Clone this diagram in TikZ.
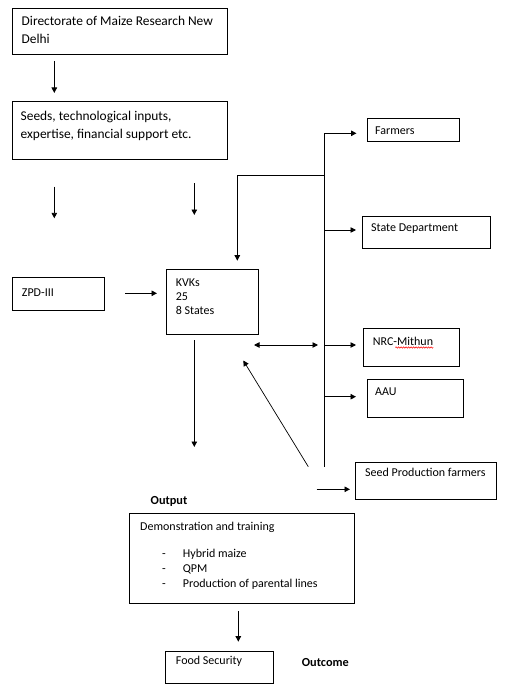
\documentclass[tikz,border=0pt]{standalone}
\usepackage{fontspec}
\setmainfont{Carlito}
\usetikzlibrary{arrows.meta,calc,decorations.pathmorphing}
\begin{document}
\begin{tikzpicture}[x=1pt,y=-1pt,
  box/.style={draw=black,line width=0.9pt,inner sep=0pt,anchor=north west},
  txt/.style={anchor=base west,inner sep=0pt,font=\fontsize{12}{14}\selectfont},
  bigtxt/.style={anchor=base west,inner sep=0pt,font=\fontsize{13.4}{16}\selectfont},
  btxt/.style={anchor=base west,inner sep=0pt,font=\fontsize{12.3}{14}\selectfont\bfseries},
  arr/.style={line width=0.9pt,-{Triangle[length=5.5pt,width=5.5pt]}},
  ln/.style={line width=0.9pt}]
\useasboundingbox (0,0) rectangle (507,690);
% boxes
\node[box,minimum width=215pt,minimum height=46pt] (dmr) at (11.7,8.3) {};
\node[box,minimum width=215pt,minimum height=57pt] (seeds) at (11.7,101.5) {};
\node[box,minimum width=92.6pt,minimum height=32.7pt] (zpd) at (11.7,277.3) {};
\node[box,minimum width=92.6pt,minimum height=65pt] (kvk) at (165.7,269.3) {};
\node[box,minimum width=92.6pt,minimum height=22.4pt] (farm) at (366.7,118.3) {};
\node[box,minimum width=128.3pt,minimum height=31.7pt] (sd) at (361.7,216) {};
\node[box,minimum width=96.6pt,minimum height=37.7pt] (nrc) at (362.7,328.3) {};
\node[box,minimum width=96.6pt,minimum height=38pt] (aau) at (366.7,379.3) {};
\node[box,minimum width=140.7pt,minimum height=37.6pt] (spf) at (355,461.7) {};
\node[box,minimum width=225.3pt,minimum height=90pt] (demo) at (129,513.3) {};
\node[box,minimum width=108.3pt,minimum height=32pt] (food) at (165,650.7) {};
% texts
\node[bigtxt] (t1a) at (21.5,26) {Directorate of Maize Research New};
\node[bigtxt] (t1b) at (21.5,44) {Delhi};
\node[bigtxt] (t2a) at (20.5,120.5) {Seeds, technological inputs,};
\node[bigtxt] (t2b) at (20.5,138) {expertise, financial support etc.};
\node[txt] (tz) at (21.7,296) {ZPD-III};
\node[txt] (tk1) at (175.7,286) {KVKs};
\node[txt] (tk2) at (175.7,300) {25};
\node[txt] (tk3) at (175.7,314) {8 States};
\node[txt] (tf) at (375,134) {Farmers};
\node[txt] (ts) at (371,231.7) {State Department};
\node[txt] (tn) at (372.7,345) {NRC-Mithun};
\node[txt] (ta) at (375,395) {AAU};
\node[txt] (tsp) at (365,476.7) {Seed Production farmers};
\node[btxt] (tout) at (150.5,504.5) {Output};
\node[txt] (td) at (140,530) {Demonstration and training};
\node[txt] (d1) at (162,557) {-};
\node[txt] (d2) at (162,572.3) {-};
\node[txt] (d3) at (162,587.3) {-};
\node[txt] (b1) at (182.7,557) {Hybrid maize};
\node[txt] (b2) at (182.7,572.3) {QPM};
\node[txt] (b3) at (182.7,587.3) {Production of parental lines};
\node[txt] (tfs) at (175.7,664) {Food Security};
\node[btxt] (toc) at (301.7,666) {Outcome};
% spell-check underline
\draw[red,line width=0.5pt,decorate,decoration={snake,amplitude=0.7pt,segment length=2.5pt}]
  ($(tn.base east)+(-38,2.5)$) -- ($(tn.base east)+(0,2.5)$);
% coordinates for free arrow ends
\coordinate (a1s) at (54.3,61);   \coordinate (a1e) at (54.3,93);
\coordinate (a2s) at (54.3,186.7); \coordinate (a2e) at (54.3,218.3);
\coordinate (a3s) at (194.3,183.3); \coordinate (a3e) at (194.3,215);
\coordinate (a4s) at (125,293.3); \coordinate (a4e) at (157,293.3);
\coordinate (fbs) at (324,175.3); \coordinate (fbc) at (237.3,175.3); \coordinate (fbe) at (237.3,260.7);
\coordinate (vt) at (324,133.3); \coordinate (vb) at (324,466.7);
\coordinate (s1) at (324,133.3); \coordinate (e1) at (356.5,133.3);
\coordinate (s2) at (324,230); \coordinate (e2) at (356,230);
\coordinate (s3) at (324,345); \coordinate (e3) at (356,345);
\coordinate (s4) at (324,396.7); \coordinate (e4) at (356,396.7);
\coordinate (dl) at (254,345); \coordinate (dr) at (318,345);
\coordinate (kd) at (194.3,340); \coordinate (ke) at (194.3,447);
\coordinate (ds) at (308.3,466.7); \coordinate (de) at (243.3,360.5);
\coordinate (ps) at (316.7,489.3); \coordinate (pe) at (350,489.3);
\coordinate (os) at (238.3,611); \coordinate (oe) at (238.3,641.7);
% connectors
\draw[arr] (a1s) -- (a1e);
\draw[arr] (a2s) -- (a2e);
\draw[arr] (a3s) -- (a3e);
\draw[arr] (a4s) -- (a4e);
\draw[ln] (vt) -- (vb);
\draw[arr] (fbs) -- (fbc) -- (fbe);
\draw[arr] (s1) -- (e1);
\draw[arr] (s2) -- (e2);
\draw[arr] (s3) -- (e3);
\draw[arr] (s4) -- (e4);
\draw[line width=0.9pt,{Triangle[length=5.5pt,width=5.5pt]}-{Triangle[length=5.5pt,width=5.5pt]}] (dl) -- (dr);
\draw[arr] (kd) -- (ke);
\draw[arr,line width=0.7pt] (ds) -- (de);
\draw[arr] (ps) -- (pe);
\draw[arr] (os) -- (oe);
\end{tikzpicture}
\end{document}
